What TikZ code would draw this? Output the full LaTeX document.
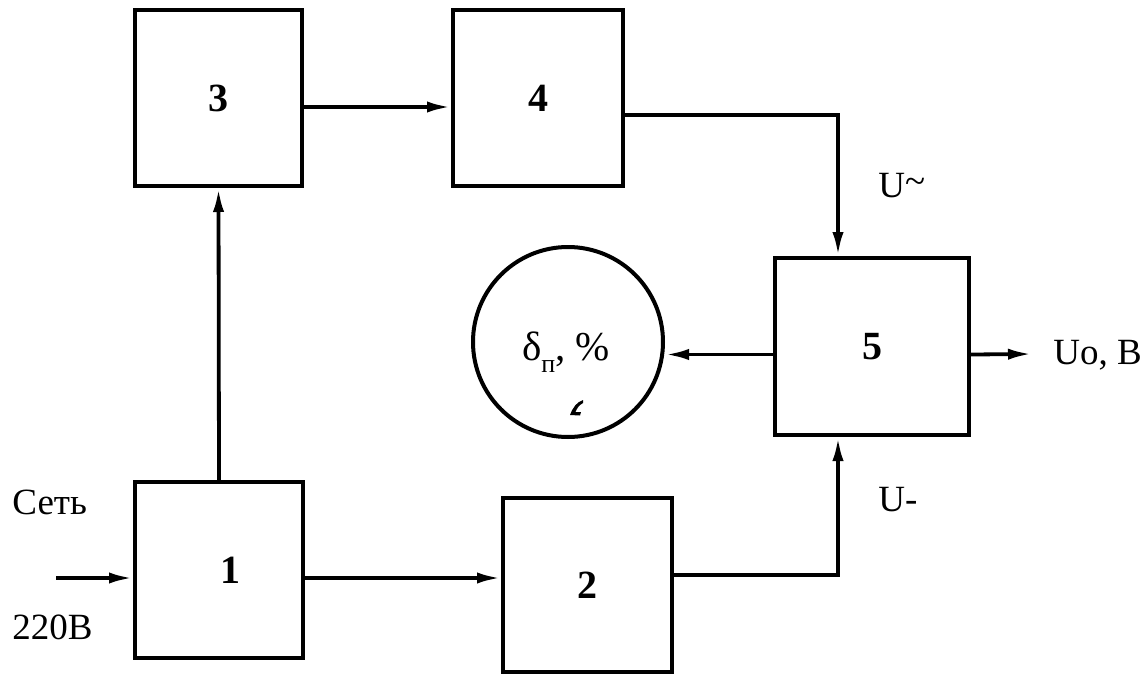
\documentclass[tikz,border=0pt]{standalone}
\usepackage{fontspec}
\setmainfont{Liberation Serif}
\usetikzlibrary{arrows.meta}
\tikzset{
  blk/.style={draw, line width=2pt, inner sep=0pt, font=\fontsize{20}{24}\selectfont\bfseries},
  arr/.style={line width=1.9pt, -{Latex[length=12pt,width=5.6pt]}},
  lbl/.style={font=\fontsize{18.5}{22}\selectfont, inner sep=0pt, anchor=west},
}
\begin{document}
\begin{tikzpicture}[x=0.5pt, y=-0.5pt]
\useasboundingbox (0,0) rectangle (1142,675);

% blocks
\node[blk, minimum width=83.5pt, minimum height=88pt] (b3) at (218.5,98) {3};
\node[blk, minimum width=85pt,   minimum height=88pt] (b4) at (538,98)   {4};
\node[blk, minimum width=97pt,   minimum height=88.5pt] (b5) at (872,346.5) {5};
\node[blk, minimum width=84pt,   minimum height=88pt] (b1) at (219,570)  {\hspace*{11pt}1};
\node[blk, minimum width=84.5pt, minimum height=87pt] (b2) at (587.5,585) {2};

% indicator
\node[draw, circle, line width=2pt, minimum size=95pt, inner sep=0pt] (c6) at (568,342) {};
\node[inner sep=0pt, font=\fontsize{20.5}{24}\selectfont] (t6) at (566,352)
  {δ\raisebox{-0.28em}{\fontsize{13}{15}\selectfont п}, \%};
\fill (570,415) .. controls (573,407) and (577,402) .. (583,400)
  -- (583,403) .. controls (579,405) and (576.5,409) .. (575.5,412)
  -- (581,412) -- (580,415.5) -- cycle;

% free ends
\coordinate (in)  at (56,578);
\coordinate (out) at (1032,354);

% connections
\draw[arr] (in) -- (in -| b1.west);
\draw[arr] (b1.east |- in) -- (b2.west |- in);
\draw[arr] (b1.north) -- (b3.south);
\draw[arr] ([yshift=-4.5pt]b3.east) -- ([yshift=-4.5pt]b3.east -| b4.west);
\draw[arr] ([yshift=-8.5pt]b4.east) -| ([xshift=-17pt]b5.north);
\draw[arr] ([yshift=5pt]b2.east) -| ([xshift=-17pt]b5.south);
\draw[arr] ([yshift=-4pt]b5.west) -- ([yshift=-4pt]b5.west -| c6.east);
\draw[arr] ([yshift=-4pt]b5.east) -- (out);

% labels
\node[lbl] (uac) at (878,186) {U\raisebox{0.12em}{\char"007E}};
\node[lbl] (udc) at (878,500) {U-};
\node[lbl] (uo)  at (1053,355) {Uo, В};
\node[lbl] (net) at (12,502) {Сеть};
\node[lbl] (v220) at (12,627) {220В};
\end{tikzpicture}
\end{document}
